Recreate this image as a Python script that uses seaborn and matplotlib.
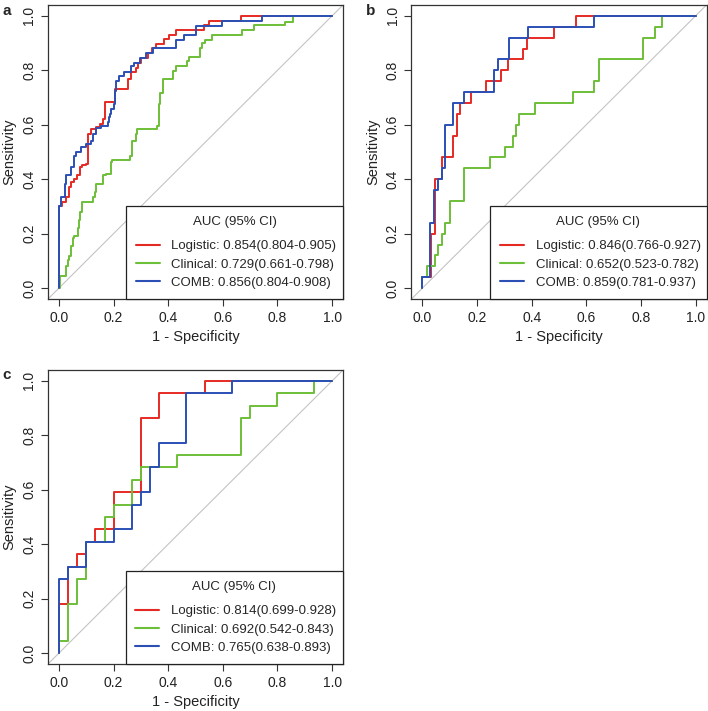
import numpy as np
import pandas as pd
import matplotlib
matplotlib.use('Agg')
import matplotlib.pyplot as plt
from matplotlib.lines import Line2D
import seaborn as sns

# ── Data ──────────────────────────────────────────────────────────────────────
MODELS = ['Logistic', 'Clinical', 'COMB']

# panel a
a_log_fpr = [0, 0, 0.013, 0.026, 0.038, 0.046, 0.056, 0.066, 0.078, 0.086, 0.099, 0.105, 0.117,
             0.135, 0.151, 0.163, 0.169, 0.204, 0.253, 0.263, 0.281, 0.29, 0.299, 0.326, 0.342,
             0.354, 0.384, 0.403, 0.427, 0.53, 0.549, 0.668, 1.0]
a_log_tpr = [0, 0.30, 0.317, 0.335, 0.372, 0.39, 0.402, 0.414, 0.445, 0.451, 0.457, 0.566, 0.584,
             0.593, 0.603, 0.621, 0.682, 0.730, 0.767, 0.793, 0.809, 0.827, 0.846, 0.864, 0.882,
             0.898, 0.915, 0.931, 0.949, 0.967, 0.982, 1.0, 1.0]
a_cli_fpr = [0, 0.005, 0.026, 0.032, 0.038, 0.046, 0.05, 0.056, 0.068, 0.074, 0.078, 0.086, 0.123,
             0.131, 0.135, 0.163, 0.172, 0.19, 0.196, 0.26, 0.269, 0.281, 0.287, 0.36, 0.366, 0.37,
             0.382, 0.418, 0.427, 0.469, 0.476, 0.518, 0.524, 0.536, 0.561, 0.67, 0.713, 0.828,
             0.856, 1.0]
a_cli_tpr = [0, 0.044, 0.08, 0.104, 0.117, 0.153, 0.183, 0.19, 0.22, 0.25, 0.281, 0.317, 0.335,
             0.354, 0.384, 0.414, 0.42, 0.463, 0.471, 0.487, 0.542, 0.566, 0.584, 0.597, 0.676,
             0.718, 0.767, 0.797, 0.816, 0.834, 0.848, 0.882, 0.9, 0.912, 0.931, 0.949, 0.965,
             0.979, 1.0, 1.0]
a_comb_fpr = [0, 0, 0.009, 0.021, 0.027, 0.045, 0.057, 0.063, 0.082, 0.1, 0.118, 0.124, 0.136,
              0.155, 0.179, 0.182, 0.187, 0.191, 0.2, 0.207, 0.209, 0.221, 0.24, 0.264, 0.276,
              0.297, 0.319, 0.343, 0.427, 0.457, 0.5, 0.597, 0.743, 1.0]
a_comb_tpr = [0, 0.30, 0.335, 0.384, 0.414, 0.445, 0.487, 0.499, 0.518, 0.53, 0.542, 0.566, 0.588,
              0.597, 0.609, 0.627, 0.639, 0.657, 0.676, 0.724, 0.761, 0.779, 0.793, 0.815, 0.827,
              0.846, 0.864, 0.882, 0.912, 0.931, 0.961, 0.98, 1.0, 1.0]

# panel b
b_log_fpr = [0, 0, 0.03, 0.045, 0.072, 0.112, 0.127, 0.139, 0.179, 0.234, 0.288, 0.315, 0.37,
             0.382, 0.482, 0.562, 1.0]
b_log_tpr = [0, 0.04, 0.20, 0.40, 0.48, 0.56, 0.64, 0.68, 0.72, 0.76, 0.80, 0.84, 0.88, 0.92,
             0.96, 1.0, 1.0]
b_cli_fpr = [0, 0, 0.017, 0.045, 0.057, 0.072, 0.084, 0.1, 0.151, 0.248, 0.303, 0.33, 0.342,
             0.355, 0.412, 0.55, 0.629, 0.646, 0.808, 0.85, 0.878, 1.0]
b_cli_tpr = [0, 0.04, 0.08, 0.12, 0.16, 0.20, 0.24, 0.32, 0.44, 0.48, 0.52, 0.56, 0.60, 0.64,
             0.68, 0.72, 0.76, 0.84, 0.92, 0.96, 1.0, 1.0]
b_comb_fpr = [0, 0, 0.029, 0.041, 0.057, 0.072, 0.084, 0.112, 0.153, 0.263, 0.275, 0.317, 0.386,
              0.629, 1.0]
b_comb_tpr = [0, 0.04, 0.24, 0.36, 0.40, 0.44, 0.60, 0.68, 0.72, 0.80, 0.84, 0.92, 0.96, 1.0, 1.0]

# panel c
c_log_fpr = [0, 0, 0.033, 0.067, 0.1, 0.133, 0.2, 0.3, 0.367, 0.533, 1.0]
c_log_tpr = [0, 0.182, 0.318, 0.364, 0.409, 0.455, 0.591, 0.864, 0.955, 1.0, 1.0]
c_cli_fpr = [0, 0, 0.033, 0.067, 0.1, 0.167, 0.2, 0.267, 0.3, 0.433, 0.667, 0.7, 0.8, 0.933, 1.0]
c_cli_tpr = [0, 0.045, 0.182, 0.273, 0.409, 0.5, 0.545, 0.636, 0.682, 0.727, 0.864, 0.909,
             0.955, 1.0, 1.0]
c_comb_fpr = [0, 0, 0.033, 0.1, 0.2, 0.267, 0.3, 0.333, 0.367, 0.467, 0.633, 1.0]
c_comb_tpr = [0, 0.273, 0.318, 0.409, 0.455, 0.545, 0.591, 0.682, 0.773, 0.955, 1.0, 1.0]

a_labels = ['Logistic: 0.854(0.804-0.905)', 'Clinical: 0.729(0.661-0.798)', 'COMB: 0.856(0.804-0.908)']
b_labels = ['Logistic: 0.846(0.766-0.927)', 'Clinical: 0.652(0.523-0.782)', 'COMB: 0.859(0.781-0.937)']
c_labels = ['Logistic: 0.814(0.699-0.928)', 'Clinical: 0.692(0.542-0.843)', 'COMB: 0.765(0.638-0.893)']

# ── Style ─────────────────────────────────────────────────────────────────────
sns.set_style('ticks')
plt.rcParams['font.family'] = ['Liberation Sans', 'DejaVu Sans']
COLORS = {'Logistic': '#E52A23', 'Clinical': '#6DBE38', 'COMB': '#2B4FB5'}
FRAME = '#333333'


def roc_frame(curves):
    parts = []
    for model, (fpr, tpr) in zip(MODELS, curves):
        parts.append(pd.DataFrame({'fpr': fpr, 'tpr': tpr, 'model': model}))
    return pd.concat(parts, ignore_index=True)


def draw_panel(ax, curves, labels, leg_x0):
    df = roc_frame(curves)
    ax.axline((0, 0), (1, 1), color='#C4C4C4', lw=0.8, zorder=1)
    sns.lineplot(data=df, x='fpr', y='tpr', hue='model', hue_order=MODELS,
                 palette=COLORS, sort=False, estimator=None, drawstyle='steps-post',
                 linewidth=1.4, legend=False, ax=ax, zorder=2)
    ax.set_xlim(-0.04, 1.04)
    ax.set_ylim(-0.04, 1.04)
    ticks = np.arange(0, 1.01, 0.2)
    ax.set_xticks(ticks)
    ax.set_yticks(ticks)
    ax.set_xticklabels([f'{t:.1f}' for t in ticks])
    ax.set_yticklabels([f'{t:.1f}' for t in ticks], rotation=90, va='center')
    ax.tick_params(direction='out', length=5, width=0.8, color=FRAME,
                   labelsize=10, pad=3.5, labelcolor='#222222')
    for sp in ax.spines.values():
        sp.set_visible(True)
        sp.set_color(FRAME)
        sp.set_linewidth(0.9)
    ax.set_xlabel('1 - Specificity', fontsize=10.5, labelpad=3.5, color='#222222')
    ax.set_ylabel('Sensitivity', fontsize=10.5, labelpad=4, color='#222222')

    handles = [Line2D([0], [0], color=COLORS[m], lw=1.5) for m in MODELS]
    leg = ax.legend(handles, labels, title='AUC (95% CI)', loc='lower left',
                    bbox_to_anchor=(leg_x0, 0, 1 - leg_x0, 0.3), mode='expand',
                    borderaxespad=0, frameon=True, fancybox=False, framealpha=1,
                    edgecolor='#222222', fontsize=9.5, title_fontsize=9.5,
                    handlelength=1.8, handletextpad=0.9, labelspacing=0.46,
                    borderpad=0.75)
    leg.get_frame().set_linewidth(0.9)
    leg._legend_box.sep = 8.7   # extra gap under the title, as in the reference
    leg.set_zorder(5)


fig = plt.figure(figsize=(7.08, 7.11), dpi=100)
ax_a = fig.add_axes([0.0678, 0.5795, 0.4167, 0.4135])
ax_b = fig.add_axes([0.5812, 0.5795, 0.4167, 0.4135])
ax_c = fig.add_axes([0.0678, 0.0661, 0.4167, 0.4135])

draw_panel(ax_a, [(a_log_fpr, a_log_tpr), (a_cli_fpr, a_cli_tpr), (a_comb_fpr, a_comb_tpr)],
           a_labels, 0.264)
draw_panel(ax_b, [(b_log_fpr, b_log_tpr), (b_cli_fpr, b_cli_tpr), (b_comb_fpr, b_comb_tpr)],
           b_labels, 0.267)
draw_panel(ax_c, [(c_log_fpr, c_log_tpr), (c_cli_fpr, c_cli_tpr), (c_comb_fpr, c_comb_tpr)],
           c_labels, 0.263)

fig.text(0.004, 0.995, 'a', fontsize=11, fontweight='bold', va='top', ha='left')
fig.text(0.517, 0.995, 'b', fontsize=11, fontweight='bold', va='top', ha='left')
fig.text(0.004, 0.482, 'c', fontsize=11, fontweight='bold', va='top', ha='left')

fig.savefig('out.png', dpi=100, facecolor='white')
